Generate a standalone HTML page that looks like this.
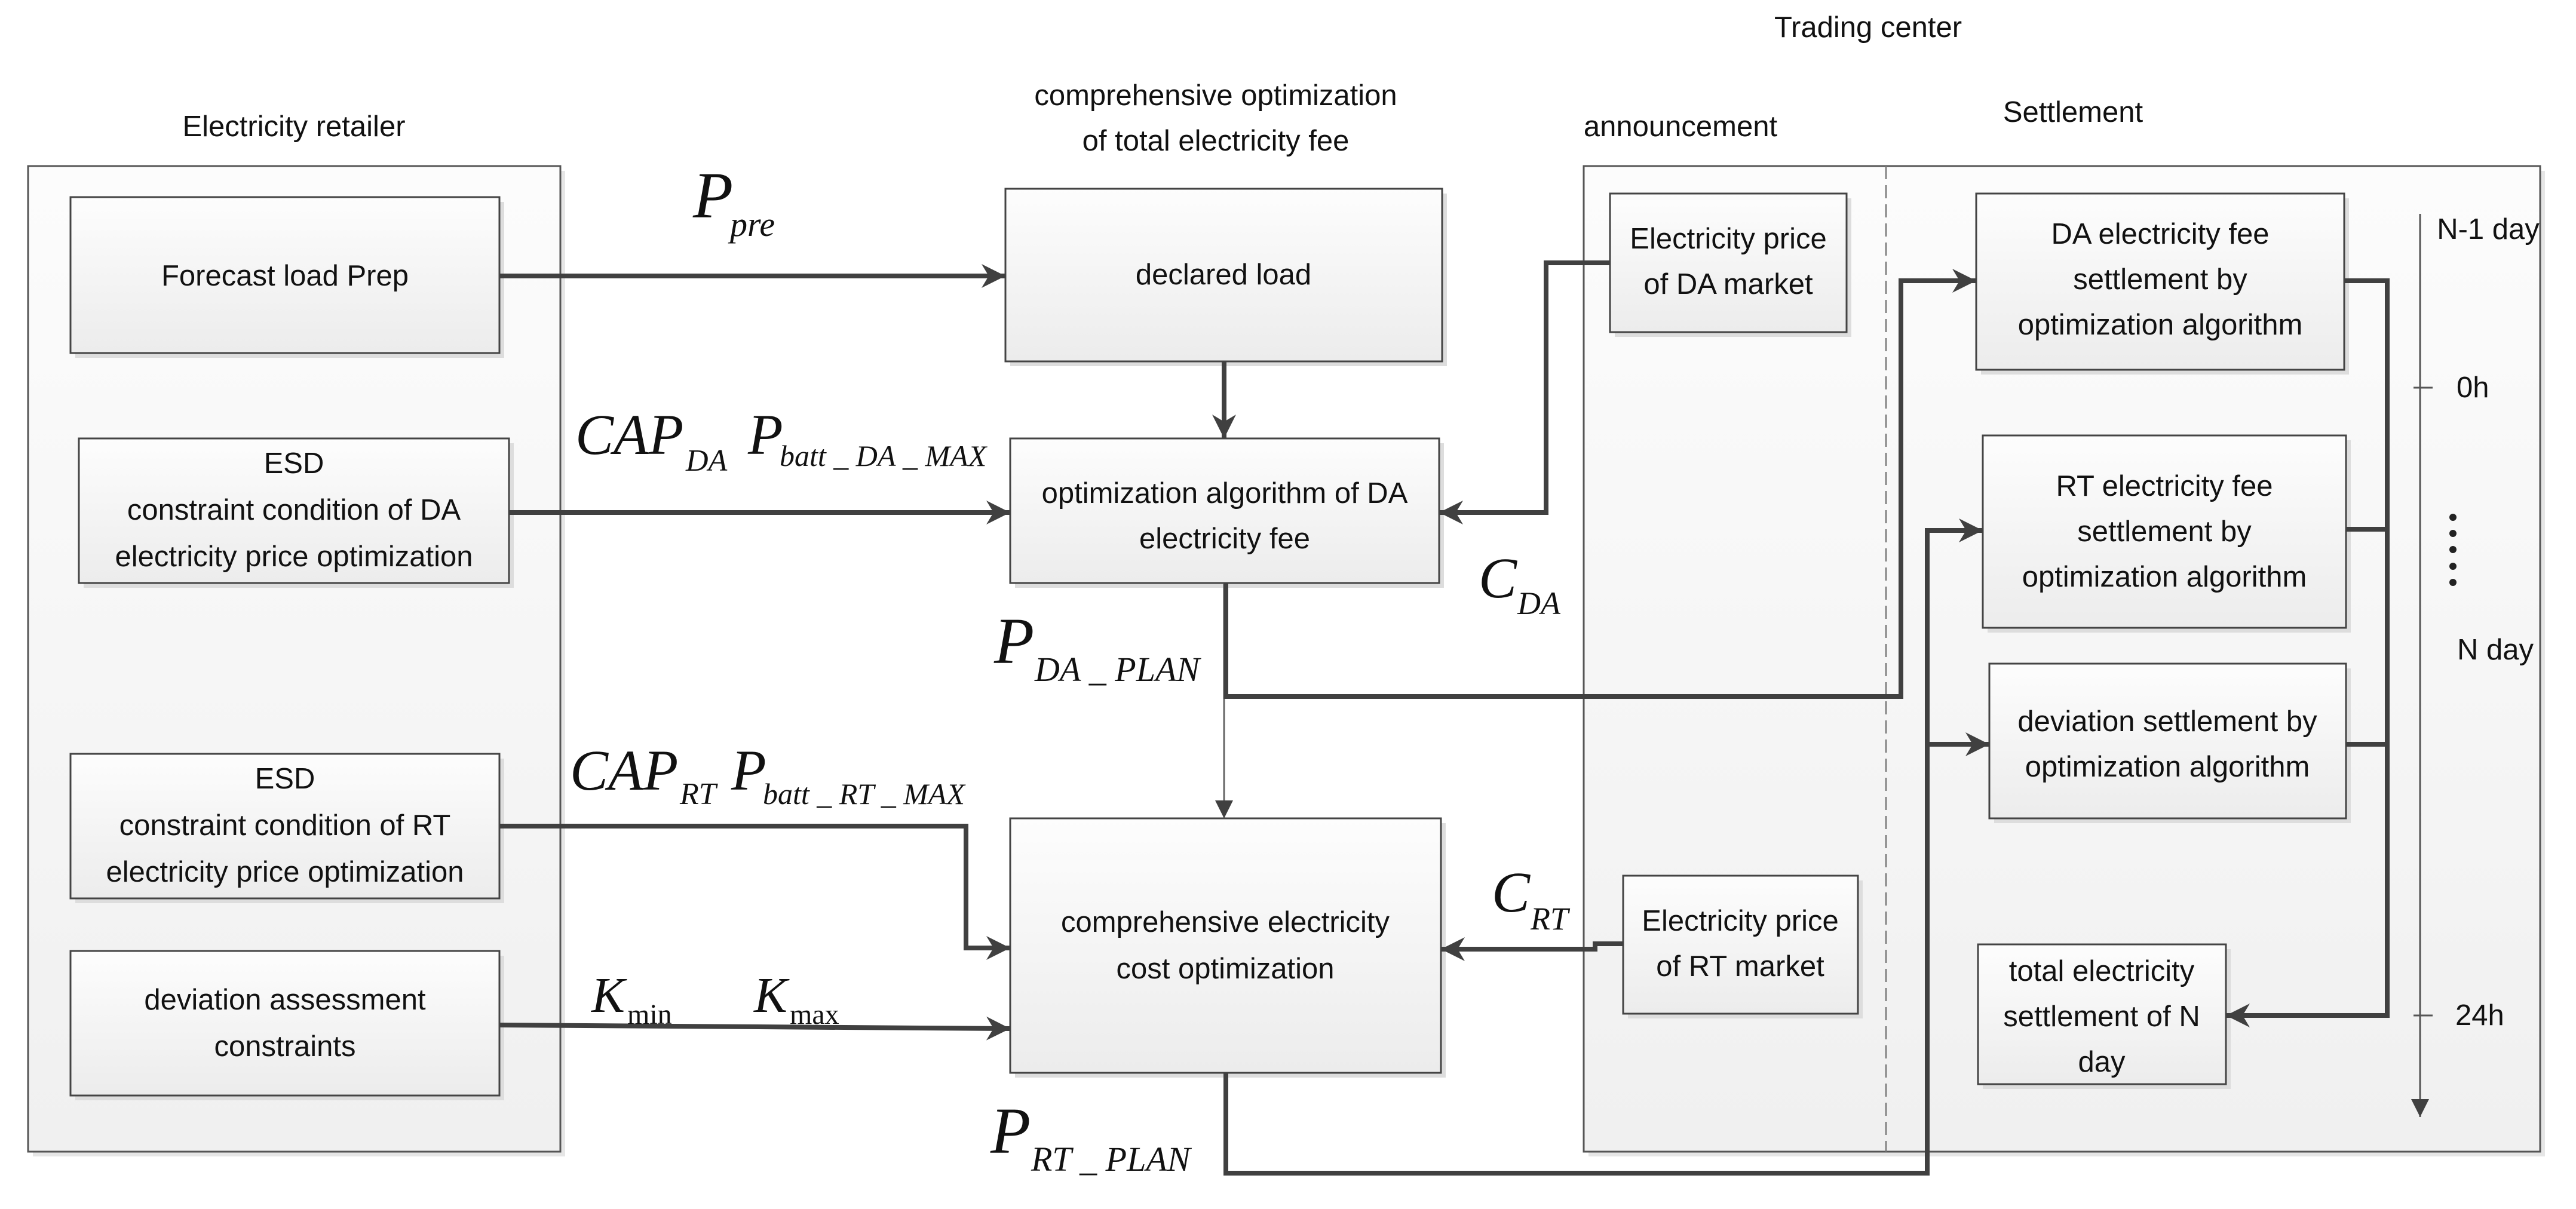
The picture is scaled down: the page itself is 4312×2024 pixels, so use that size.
<!DOCTYPE html>
<html><head><meta charset="utf-8"><style>
html,body{margin:0;padding:0;background:#fff;}
svg{display:block;}
.t{font-family:"Liberation Sans",sans-serif;font-size:49px;fill:#111;text-anchor:middle;}
.m{font-family:"Liberation Serif",serif;font-style:italic;fill:#111;}
.c{stroke:#404040;stroke-width:8;fill:none;stroke-linejoin:miter;}
</style></head><body>
<svg width="4312" height="2024" viewBox="0 0 4312 2024" xmlns="http://www.w3.org/2000/svg">
<defs>
<linearGradient id="g" x1="0" y1="0" x2="0" y2="1"><stop offset="0" stop-color="#fdfdfd"/><stop offset="1" stop-color="#ececec"/></linearGradient>
<linearGradient id="gc" x1="0" y1="0" x2="0" y2="1"><stop offset="0" stop-color="#fcfcfc"/><stop offset="1" stop-color="#f0f0f0"/></linearGradient>
<marker id="a" viewBox="0 0 10 10" refX="10" refY="5" markerWidth="5" markerHeight="5" orient="auto" markerUnits="strokeWidth"><path d="M0,0 L10,5 L0,10 L3,5 Z" fill="#404040"/></marker>
<marker id="a2" viewBox="0 0 10 10" refX="10" refY="5" markerWidth="10" markerHeight="22" orient="auto" markerUnits="strokeWidth"><path d="M0,0 L10,5 L0,10 Z" fill="#404040"/></marker>
</defs>

<rect x="55" y="286" width="891" height="1650" fill="#e6e6e6"/>
<rect x="47" y="278" width="891" height="1650" fill="url(#gc)" stroke="#555" stroke-width="3"/>
<rect x="2659" y="286" width="1601" height="1650" fill="#e6e6e6"/>
<rect x="2651" y="278" width="1601" height="1650" fill="url(#gc)" stroke="#555" stroke-width="3"/>
<line x1="3157" y1="278" x2="3157" y2="1928" stroke="#777" stroke-width="2.5" stroke-dasharray="22,10"/>

<text class="t" x="3127" y="62">Trading center</text>
<text class="t" x="492" y="228">Electricity retailer</text>
<text class="t" x="2035" y="176">comprehensive optimization</text>
<text class="t" x="2035" y="252">of total electricity fee</text>
<text class="t" x="2813" y="228">announcement</text>
<text class="t" x="3470" y="204">Settlement</text>

<g stroke="#444" stroke-width="3" fill="url(#g)">
<rect x="126" y="338" width="718" height="261" fill="#ddd" stroke="none"/><rect x="118" y="330" width="718" height="261"/>
<rect x="140" y="742" width="720" height="242" fill="#ddd" stroke="none"/><rect x="132" y="734" width="720" height="242"/>
<rect x="126" y="1270" width="718" height="242" fill="#ddd" stroke="none"/><rect x="118" y="1262" width="718" height="242"/>
<rect x="126" y="1600" width="718" height="242" fill="#ddd" stroke="none"/><rect x="118" y="1592" width="718" height="242"/>
<rect x="1691" y="324" width="731" height="289" fill="#ddd" stroke="none"/><rect x="1683" y="316" width="731" height="289"/>
<rect x="1699" y="742" width="718" height="242" fill="#ddd" stroke="none"/><rect x="1691" y="734" width="718" height="242"/>
<rect x="1699" y="1378" width="721" height="426" fill="#ddd" stroke="none"/><rect x="1691" y="1370" width="721" height="426"/>
<rect x="2703" y="332" width="396" height="232" fill="#ddd" stroke="none"/><rect x="2695" y="324" width="396" height="232"/>
<rect x="2725" y="1474" width="393" height="231" fill="#ddd" stroke="none"/><rect x="2717" y="1466" width="393" height="231"/>
<rect x="3316" y="332" width="616" height="295" fill="#ddd" stroke="none"/><rect x="3308" y="324" width="616" height="295"/>
<rect x="3327" y="737" width="608" height="322" fill="#ddd" stroke="none"/><rect x="3319" y="729" width="608" height="322"/>
<rect x="3338" y="1119" width="597" height="259" fill="#ddd" stroke="none"/><rect x="3330" y="1111" width="597" height="259"/>
<rect x="3319" y="1589" width="415" height="234" fill="#ddd" stroke="none"/><rect x="3311" y="1581" width="415" height="234"/>
</g>

<text class="t" x="477" y="478">Forecast load Prep</text>
<text class="t" x="492" y="792">ESD</text>
<text class="t" x="492" y="870">constraint condition of DA</text>
<text class="t" x="492" y="948">electricity price optimization</text>
<text class="t" x="477" y="1320">ESD</text>
<text class="t" x="477" y="1398">constraint condition of RT</text>
<text class="t" x="477" y="1476">electricity price optimization</text>
<text class="t" x="477" y="1690">deviation assessment</text>
<text class="t" x="477" y="1768">constraints</text>
<text class="t" x="2048" y="476">declared load</text>
<text class="t" x="2050" y="842">optimization algorithm of DA</text>
<text class="t" x="2050" y="918">electricity fee</text>
<text class="t" x="2051" y="1560">comprehensive electricity</text>
<text class="t" x="2051" y="1638">cost optimization</text>
<text class="t" x="2893" y="416">Electricity price</text>
<text class="t" x="2893" y="492">of DA market</text>
<text class="t" x="2913" y="1558">Electricity price</text>
<text class="t" x="2913" y="1634">of RT market</text>
<text class="t" x="3616" y="408">DA electricity fee</text>
<text class="t" x="3616" y="484">settlement by</text>
<text class="t" x="3616" y="560">optimization algorithm</text>
<text class="t" x="3623" y="830">RT electricity fee</text>
<text class="t" x="3623" y="906">settlement by</text>
<text class="t" x="3623" y="982">optimization algorithm</text>
<text class="t" x="3628" y="1224">deviation settlement by</text>
<text class="t" x="3628" y="1300">optimization algorithm</text>
<text class="t" x="3518" y="1642">total electricity</text>
<text class="t" x="3518" y="1718">settlement of N</text>
<text class="t" x="3518" y="1794">day</text>

<path class="c" d="M836,462 L1683,462" marker-end="url(#a)"/>
<path class="c" d="M852,858 L1691,858" marker-end="url(#a)"/>
<path class="c" d="M2049,605 L2049,734" marker-end="url(#a)"/>
<path d="M2049,976 L2049,1370" stroke="#666" stroke-width="3" fill="none" marker-end="url(#a2)"/>
<path class="c" d="M2695,440 L2588,440 L2588,858 L2409,858" marker-end="url(#a)"/>
<path class="c" d="M2052,976 L2052,1166 L3182,1166 L3182,470 L3308,470" marker-end="url(#a)"/>
<path class="c" d="M2717,1580 L2670,1580 L2670,1589 L2412,1589" marker-end="url(#a)"/>
<path class="c" d="M836,1383 L1617,1383 L1617,1587 L1691,1587" marker-end="url(#a)"/>
<path class="c" d="M836,1716 L1691,1722" marker-end="url(#a)"/>
<path class="c" d="M2052,1796 L2052,1964 L3226,1964 L3226,1246 L3330,1246" marker-end="url(#a)"/>
<path class="c" d="M3226,1250 L3226,888 L3319,888" marker-end="url(#a)"/>
<path class="c" d="M3924,470 L3996,470 L3996,1700 L3726,1700" marker-end="url(#a)"/>
<path class="c" d="M3927,886 L3996,886"/>
<path class="c" d="M3927,1246 L3996,1246"/>

<path d="M4051,358 L4051,1870" stroke="#555" stroke-width="3" fill="none" marker-end="url(#a2)"/>
<line x1="4040" y1="649" x2="4072" y2="649" stroke="#555" stroke-width="3"/>
<line x1="4040" y1="1700" x2="4072" y2="1700" stroke="#555" stroke-width="3"/>
<g fill="#222"><circle cx="4106" cy="866" r="6"/><circle cx="4106" cy="893" r="6"/><circle cx="4106" cy="920" r="6"/><circle cx="4106" cy="948" r="6"/><circle cx="4106" cy="975" r="6"/></g>
<text class="t" x="4165" y="400">N-1 day</text>
<text class="t" x="4112" y="665" style="text-anchor:start">0h</text>
<text class="t" x="4177" y="1104">N day</text>
<text class="t" x="4110" y="1716" style="text-anchor:start">24h</text>

<text class="m" x="1160" y="364" font-size="110">P</text><text class="m" x="1222" y="395" font-size="58">pre</text>
<text class="m" x="963" y="760" font-size="96">CAP</text><text class="m" x="1148" y="788" font-size="52">DA</text>
<text class="m" x="1252" y="760" font-size="96">P</text><text class="m" x="1305" y="780" font-size="50">batt _ DA _ MAX</text>
<text class="m" x="2475" y="1000" font-size="96">C</text><text class="m" x="2540" y="1028" font-size="54">DA</text>
<text class="m" x="1664" y="1110" font-size="110">P</text><text class="m" x="1732" y="1140" font-size="58">DA _ PLAN</text>
<text class="m" x="954" y="1322" font-size="96">CAP</text><text class="m" x="1138" y="1346" font-size="52">RT</text>
<text class="m" x="1224" y="1322" font-size="96">P</text><text class="m" x="1277" y="1346" font-size="50">batt _ RT _ MAX</text>
<text class="m" x="2497" y="1526" font-size="96">C</text><text class="m" x="2562" y="1556" font-size="54">RT</text>
<text class="m" x="990" y="1694" font-size="84">K</text><text class="m" x="1050" y="1714" font-size="48" style="font-style:normal">min</text>
<text class="m" x="1262" y="1694" font-size="84">K</text><text class="m" x="1322" y="1714" font-size="48" style="font-style:normal">max</text>
<text class="m" x="1658" y="1930" font-size="110">P</text><text class="m" x="1726" y="1960" font-size="58">RT _ PLAN</text>
</svg>
</body></html>
